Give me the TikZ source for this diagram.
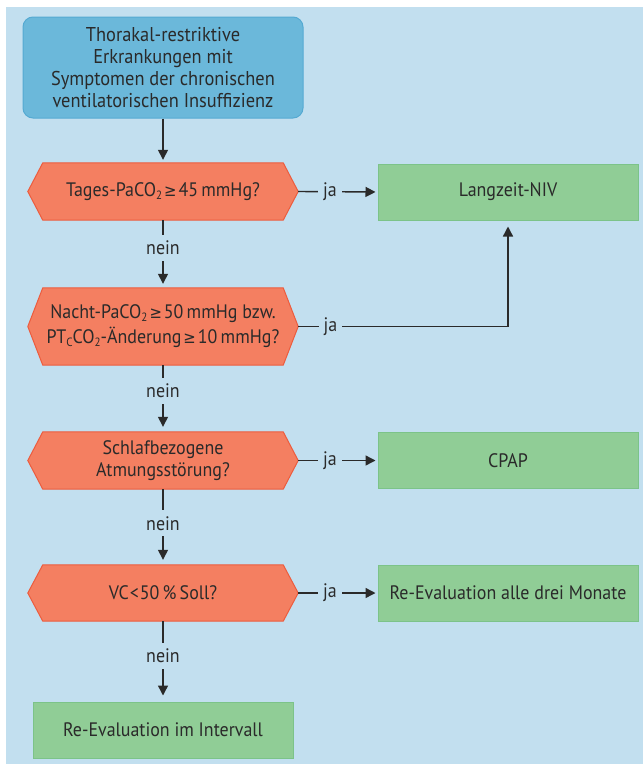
\documentclass[tikz,border=0pt]{standalone}
\usepackage{fontspec}
\setmainfont[FakeStretch=0.92]{PT Sans}
\newfontfamily\symf[FakeStretch=0.9]{DejaVu Sans}
\usetikzlibrary{arrows.meta,backgrounds}
\definecolor{bgblue}{HTML}{C2DFEF}
\definecolor{topfill}{HTML}{6BB8DA}
\definecolor{topdraw}{HTML}{55AAD2}
\definecolor{hexfill}{HTML}{F47F61}
\definecolor{hexdraw}{HTML}{EC5C3E}
\definecolor{grfill}{HTML}{90CD96}
\definecolor{grdraw}{HTML}{7CC389}
\definecolor{txt}{HTML}{2A2A2A}
\newcommand\subt[1]{\raisebox{-0.3ex}{\fontsize{12}{12}\selectfont #1}}
\newcommand\gesym{\kern2pt{\symf\fontsize{16.5}{16.5}\selectfont ≥}\kern2pt}
\newcommand\hexa[1]{\draw[hexstyle] (#1.west) -- ([xshift=15pt]#1.north west) -- ([xshift=-15pt]#1.north east) -- (#1.east) -- ([xshift=-15pt]#1.south east) -- ([xshift=15pt]#1.south west) -- cycle;}
\tikzset{
  startbox/.style={rectangle, rounded corners=10pt, fill=topfill, draw=topdraw, line width=1pt, minimum width=280pt, minimum height=101pt, inner sep=0pt, align=center},
  hexnode/.style={rectangle, minimum width=270pt, minimum height=57pt, inner sep=0pt, align=center},
  hexstyle/.style={fill=hexfill, draw=hexdraw, line width=1pt},
  greenbox/.style={rectangle, fill=grfill, draw=grdraw, line width=1pt, minimum width=260pt, minimum height=56pt, inner sep=0pt, align=center},
  arr/.style={draw=txt, line width=1.4pt, -{Triangle[length=10pt,width=10pt]}},
  lbl/.style={fill=bgblue, inner xsep=5pt, inner ysep=0pt, minimum height=26pt, text=txt}
}
\begin{document}
\begin{tikzpicture}[x=1pt, y=-1pt, font=\fontsize{19.5}{21.7}\selectfont, text=txt]
\useasboundingbox (0,0) rectangle (643,766);
% nodes
\node[startbox, font=\fontsize{20}{21.7}\selectfont] (s) at (163,67.5) {Thorakal-restriktive\\Erkrankungen mit\\Symptomen der chronischen\\ventilatorischen Insuffizienz};
\node[hexnode] (h1) at (163,191.5) {Tages-PaCO\subt{2}\gesym45\,mmHg?};
\node[hexnode, minimum height=77pt, font=\fontsize{19.5}{25}\selectfont] (h2) at (163,326.5) {Nacht-PaCO\subt{2}\gesym50\,mmHg bzw.\\PT\subt{C}CO\subt{2}-Änderung\gesym10\,mmHg?};
\node[hexnode, font=\fontsize{19.5}{22}\selectfont] (h3) at (163,460.5) {Schlafbezogene\\Atmungsstörung?};
\node[hexnode, minimum height=56pt] (h4) at (163,593) {VC\kern1pt<\kern1pt50\,\%\,Soll?};
\node[greenbox] (niv) at (508,192) {Langzeit-NIV};
\node[greenbox] (cpap) at (508,460.5) {CPAP};
\node[greenbox] (r3) at (508,593) {Re-Evaluation alle drei Monate};
\node[greenbox] (ri) at (163,730) {Re-Evaluation im Intervall};
% background and hexagons
\begin{scope}[on background layer]
\fill[white] (0,0) rectangle (643,766);
\fill[bgblue] (6,7) rectangle (643,764);
\hexa{h1}
\hexa{h2}
\hexa{h3}
\hexa{h4}
\end{scope}
% connectors
\draw[arr, shorten >=3pt] (s.south) -- (h1.north);
\draw[arr, shorten >=4pt] (h1.south) -- node[lbl, pos=0.41]{nein} (h2.north);
\draw[arr, shorten >=5pt] (h2.south) -- node[lbl, pos=0.38]{nein} (h3.north);
\draw[arr, shorten >=5pt] (h3.south) -- node[lbl, pos=0.45]{nein} (h4.north);
\draw[arr, shorten >=6pt] (h4.south) -- node[lbl, pos=0.43]{nein} (ri.north);
\draw[arr, shorten >=2pt] (h1.east) -- node[lbl, pos=0.4]{ja} (niv.west);
\draw[arr, shorten >=6pt] (h2.east) -| node[lbl, pos=0.077]{ja} (niv.south);
\draw[arr, shorten >=2pt] (h3.east) -- node[lbl, pos=0.4]{ja} (cpap.west);
\draw[arr, shorten >=2pt] (h4.east) -- node[lbl, pos=0.4]{ja} (r3.west);
\end{tikzpicture}
\end{document}
